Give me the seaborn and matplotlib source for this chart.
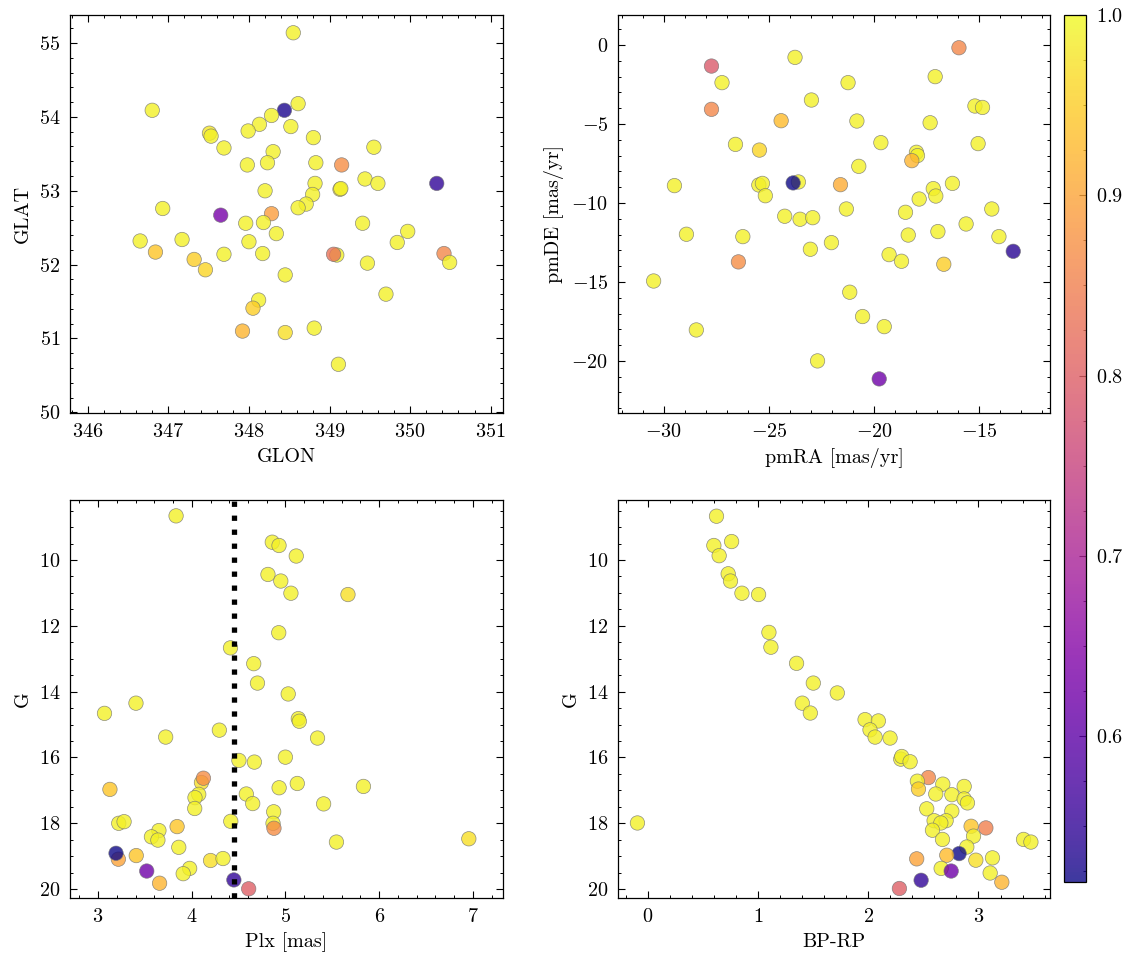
import numpy as np
import pandas as pd
import matplotlib
matplotlib.use("Agg")
import matplotlib.pyplot as plt
from matplotlib.ticker import AutoMinorLocator, MultipleLocator
import seaborn as sns

# --- datos ---
# panel 1: posicion galactica
glon = [348.55, 346.80, 348.44, 348.61, 348.28, 348.13, 347.99, 347.51, 347.53, 348.52,
        348.80, 347.69, 349.55, 348.30, 347.98, 348.23, 348.83, 349.15, 348.82, 349.44,
        349.60, 350.33, 349.13, 349.14, 348.20, 348.79, 348.71, 348.61, 346.93, 347.65,
        348.28, 347.96, 348.18, 349.41, 348.34, 349.97, 349.84, 346.65, 347.17, 348.00,
        346.84, 347.69, 348.17, 349.09, 349.05, 350.42, 350.49, 347.32, 349.47, 347.46,
        348.45, 349.70, 348.12, 348.05, 347.92, 348.45, 348.81, 349.11]
glat = [55.14, 54.09, 54.09, 54.18, 54.02, 53.90, 53.81, 53.78, 53.74, 53.87,
        53.72, 53.58, 53.59, 53.53, 53.35, 53.38, 53.38, 53.35, 53.10, 53.16,
        53.10, 53.10, 53.02, 53.03, 53.00, 52.95, 52.82, 52.77, 52.76, 52.67,
        52.69, 52.56, 52.57, 52.56, 52.42, 52.45, 52.30, 52.32, 52.34, 52.31,
        52.17, 52.14, 52.15, 52.13, 52.14, 52.15, 52.03, 52.07, 52.02, 51.93,
        51.86, 51.60, 51.52, 51.41, 51.10, 51.08, 51.14, 50.65]
prob_sky = [0.99, 0.99, 0.53, 0.99, 0.99, 0.99, 0.99, 0.98, 0.99, 0.99,
            0.99, 0.99, 0.99, 0.99, 0.99, 0.99, 0.99, 0.87, 0.99, 0.99,
            0.99, 0.55, 0.98, 0.99, 0.99, 0.99, 0.99, 0.99, 0.99, 0.63,
            0.89, 0.99, 0.99, 0.99, 0.99, 0.99, 0.99, 0.99, 0.99, 0.99,
            0.94, 0.99, 0.99, 0.99, 0.83, 0.86, 0.99, 0.95, 0.99, 0.96,
            0.99, 0.99, 0.99, 0.95, 0.92, 0.97, 0.99, 0.99]

# panel 2: movimientos propios
pmra = [-27.73, -23.76, -15.97, -27.23, -17.10, -21.24, -22.98, -27.73, -15.21, -14.85,
        -24.42, -20.82, -17.34, -26.59, -25.45, -19.68, -15.06, -17.99, -17.94, -18.21,
        -20.73, -29.49, -25.48, -25.31, -23.60, -23.85, -21.60, -25.17, -17.19, -17.07,
        -16.28, -17.86, -21.32, -14.41, -18.51, -24.25, -23.52, -22.92, -15.63, -28.92,
        -26.24, -18.38, -16.97, -14.07, -22.03, -23.03, -19.29, -18.70, -13.39, -26.45,
        -16.69, -30.48, -21.16, -20.55, -19.52, -28.45, -22.69, -19.76]
pmde = [-1.33, -0.78, -0.17, -2.38, -2.00, -2.38, -3.48, -4.07, -3.86, -3.95,
        -4.79, -4.81, -4.92, -6.29, -6.65, -6.18, -6.24, -6.79, -7.00, -7.32,
        -7.68, -8.90, -8.86, -8.76, -8.67, -8.73, -8.84, -9.54, -9.09, -9.56,
        -8.76, -9.75, -10.38, -10.38, -10.59, -10.84, -11.03, -10.93, -11.33, -11.98,
        -12.13, -12.03, -11.81, -12.13, -12.51, -12.93, -13.27, -13.69, -13.06, -13.73,
        -13.88, -14.94, -15.65, -17.19, -17.83, -18.04, -20.00, -21.14]
prob_pm = [0.79, 0.99, 0.86, 0.99, 0.99, 0.99, 0.99, 0.86, 0.99, 0.99,
           0.93, 0.99, 0.99, 0.99, 0.96, 0.99, 0.99, 0.99, 0.99, 0.92,
           0.99, 0.99, 0.99, 0.99, 0.99, 0.52, 0.91, 0.99, 0.99, 0.99,
           0.99, 0.99, 0.99, 0.99, 0.99, 0.99, 0.99, 0.99, 0.99, 0.99,
           0.99, 0.99, 0.99, 0.99, 0.99, 0.99, 0.99, 0.99, 0.54, 0.87,
           0.95, 0.99, 0.99, 0.99, 0.99, 0.99, 0.99, 0.62]

# panel 3: paralaje vs magnitud G
plx = [3.832, 4.859, 4.931, 5.115, 4.813, 4.950, 5.058, 5.667, 4.928, 4.413,
       4.661, 4.701, 5.029, 3.404, 3.068, 5.137, 5.148, 4.294, 3.721, 5.342,
       4.503, 4.668, 4.999, 4.103, 4.124, 3.126, 4.932, 5.126, 5.832, 4.074,
       4.034, 4.582, 4.650, 5.407, 4.031, 4.874, 3.220, 3.277, 4.416, 3.843,
       4.867, 4.877, 3.649, 3.569, 3.638, 5.544, 6.957, 3.861, 3.216, 3.191,
       3.407, 4.200, 4.333, 3.977, 3.908, 3.519, 3.656, 4.449, 4.607]
g_plx = [8.66, 9.46, 9.56, 9.88, 10.44, 10.64, 11.01, 11.05, 12.21, 12.67,
         13.15, 13.74, 14.07, 14.35, 14.66, 14.82, 14.90, 15.17, 15.38, 15.41,
         16.09, 16.14, 15.99, 16.76, 16.63, 16.97, 16.92, 16.79, 16.88, 17.12,
         17.22, 17.11, 17.40, 17.41, 17.55, 17.65, 18.00, 17.95, 17.94, 18.10,
         18.00, 18.15, 18.22, 18.41, 18.51, 18.57, 18.47, 18.73, 19.09, 18.91,
         18.98, 19.13, 19.07, 19.37, 19.53, 19.45, 19.82, 19.72, 19.99]
prob_plx = [0.99, 0.99, 0.99, 0.99, 0.99, 0.99, 0.99, 0.97, 0.99, 0.99,
            0.99, 0.99, 0.99, 0.99, 0.99, 0.99, 0.99, 0.99, 0.99, 0.99,
            0.99, 0.99, 0.99, 0.97, 0.87, 0.94, 0.99, 0.99, 0.99, 0.99,
            0.99, 0.99, 0.99, 0.99, 0.99, 0.99, 0.99, 0.99, 0.99, 0.94,
            0.99, 0.87, 0.99, 0.99, 0.99, 0.99, 0.97, 0.99, 0.90, 0.52,
            0.94, 0.97, 0.99, 0.99, 0.99, 0.62, 0.92, 0.55, 0.80]
plx_cut = 4.452

# panel 4: diagrama color-magnitud
bprp = [0.621, 0.597, 0.758, 0.645, 0.727, 0.748, 0.852, 1.003, 1.097, 1.115,
        1.348, 1.500, 1.718, 1.400, 1.473, 1.970, 2.091, 2.015, 2.061, 2.197,
        2.294, 2.303, 2.379, 2.545, 2.445, 2.455, 2.676, 2.870, 2.612, 2.758,
        2.870, 2.900, 2.530, 2.758, 2.597, 2.706, 2.658, -0.097, 2.933, 3.067,
        2.582, 2.955, 2.673, 3.409, 3.476, 2.894, 2.824, 2.712, 2.439, 3.127,
        2.976, 2.661, 2.752, 3.106, 2.479, 3.212, 2.282]
g_cmd = [8.67, 9.56, 9.44, 9.87, 10.42, 10.64, 11.01, 11.05, 12.20, 12.65,
         13.14, 13.74, 14.04, 14.35, 14.65, 14.85, 14.89, 15.16, 15.38, 15.41,
         16.05, 15.97, 16.13, 16.61, 16.72, 16.96, 16.81, 16.88, 17.11, 17.13,
         17.26, 17.38, 17.56, 17.63, 17.92, 17.92, 17.99, 17.99, 18.09, 18.14,
         18.21, 18.39, 18.49, 18.49, 18.57, 18.72, 18.92, 18.97, 19.08, 19.05,
         19.12, 19.37, 19.45, 19.51, 19.73, 19.79, 19.98]
prob_cmd = [0.99, 0.99, 0.99, 0.99, 0.99, 0.99, 0.99, 0.99, 0.99, 0.99,
            0.99, 0.99, 0.99, 0.99, 0.99, 0.99, 0.99, 0.99, 0.99, 0.99,
            0.99, 0.99, 0.99, 0.86, 0.99, 0.95, 0.99, 0.99, 0.99, 0.99,
            0.99, 0.99, 0.99, 0.99, 0.99, 0.99, 0.99, 0.99, 0.94, 0.85,
            0.99, 0.99, 0.99, 0.99, 0.99, 0.99, 0.52, 0.93, 0.90, 0.99,
            0.97, 0.99, 0.62, 0.99, 0.55, 0.92, 0.80]

vmin, vmax = 0.519, 1.0

# --- estilo ---
sns.set_style("ticks")
plt.rcParams['font.family'] = ['cmr10', 'DejaVu Serif']
plt.rcParams.update({
    'mathtext.fontset': 'cm',
    'axes.formatter.use_mathtext': True,
    'axes.unicode_minus': True,
    'font.size': 14.5,
    'axes.labelsize': 14.5,
    'xtick.labelsize': 14.5,
    'ytick.labelsize': 14.5,
    'axes.labelpad': 5,
    'axes.labelcolor': 'black',
    'text.color': 'black',
    'axes.linewidth': 0.9,
    'axes.edgecolor': 'black',
    'xtick.direction': 'in', 'ytick.direction': 'in',
    'xtick.top': True, 'ytick.right': True,
    'xtick.major.size': 5, 'ytick.major.size': 5,
    'xtick.minor.size': 2.5, 'ytick.minor.size': 2.5,
    'xtick.major.width': 0.8, 'ytick.major.width': 0.8,
    'xtick.minor.width': 0.7, 'ytick.minor.width': 0.7,
    'xtick.major.pad': 7, 'ytick.major.pad': 7,
    'xtick.color': 'black', 'ytick.color': 'black',
})

fig = plt.figure(figsize=(11.33, 9.65), dpi=100)
ax1 = fig.add_axes([0.0618, 0.572, 0.382, 0.4124])
ax2 = fig.add_axes([0.5455, 0.572, 0.3813, 0.4124])
ax3 = fig.add_axes([0.0618, 0.0694, 0.382, 0.4124])
ax4 = fig.add_axes([0.5455, 0.0694, 0.3813, 0.4124])
cax = fig.add_axes([0.939, 0.086, 0.0194, 0.8984])

norm = plt.Normalize(vmin, vmax)
kw = dict(palette='plasma', hue_norm=norm, legend=False, alpha=0.8, s=108,
          edgecolor='0.45', linewidth=0.5)

def panel(ax, x, y, p, xlabel, ylabel, xstep, ystep):
    df = pd.DataFrame({'x': x, 'y': y, 'p': p})
    sns.scatterplot(data=df, x='x', y='y', hue='p', ax=ax, **kw)
    ax.set_xlabel(xlabel, color='black')
    ax.set_ylabel(ylabel, color='black')
    ax.xaxis.set_major_locator(MultipleLocator(xstep))
    ax.yaxis.set_major_locator(MultipleLocator(ystep))
    ax.xaxis.set_minor_locator(AutoMinorLocator())
    ax.yaxis.set_minor_locator(AutoMinorLocator())
    ax.tick_params(which='both', direction='in', top=True, right=True)

panel(ax1, glon, glat, prob_sky, 'GLON', 'GLAT', 1, 1)
ax1.set_xlim(345.78, 351.15)
ax1.set_ylim(49.99, 55.38)

panel(ax2, pmra, pmde, prob_pm, 'pmRA [mas/yr]', 'pmDE [mas/yr]', 5, 5)
ax2.set_xlim(-32.17, -11.64)
ax2.set_ylim(-23.3, 1.9)

panel(ax3, plx, g_plx, prob_plx, 'Plx [mas]', 'G', 1, 2)
ax3.axvline(plx_cut, color='black', ls=':', lw=3.8, zorder=3)
ax3.set_xlim(2.70, 7.32)
ax3.set_ylim(20.27, 8.18)

panel(ax4, bprp, g_cmd, prob_cmd, 'BP-RP', 'G', 1, 2)
ax4.set_xlim(-0.273, 3.65)
ax4.set_ylim(20.27, 8.18)

sm = plt.cm.ScalarMappable(norm=norm, cmap='plasma')
cb = fig.colorbar(sm, cax=cax, alpha=0.8)
cb.set_ticks([0.6, 0.7, 0.8, 0.9, 1.0])
cb.ax.yaxis.set_minor_locator(MultipleLocator(0.025))
cb.ax.tick_params(which='both', direction='in', right=True, left=False)
cb.outline.set_linewidth(0.9)

fig.savefig('out.png', dpi=100)
